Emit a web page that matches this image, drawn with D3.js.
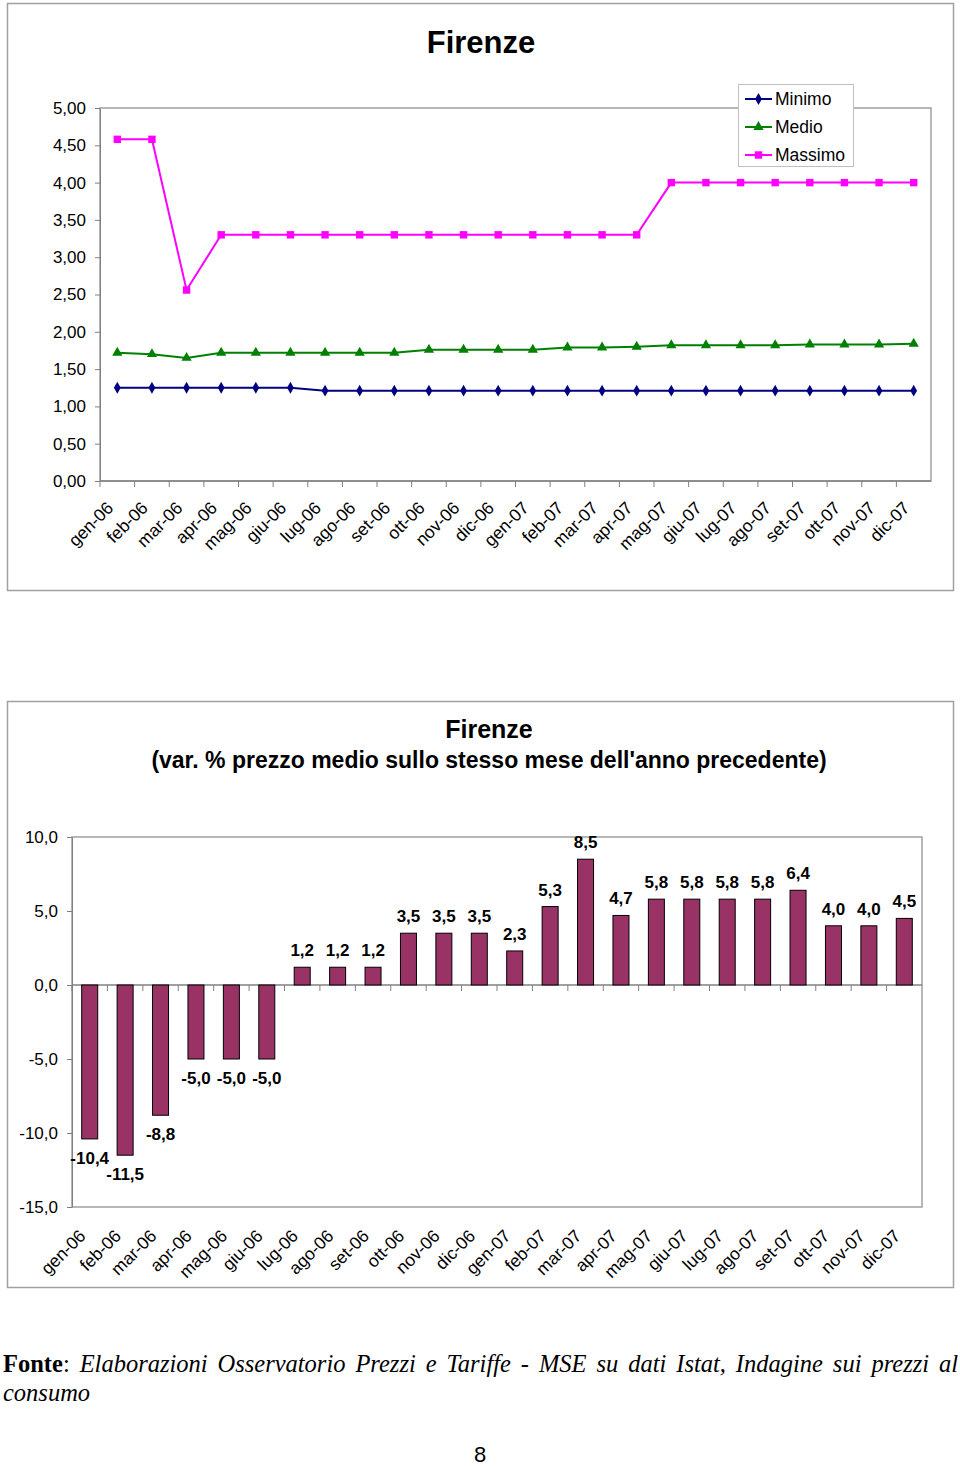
<!DOCTYPE html>
<html><head><meta charset="utf-8">
<script src="https://cdn.jsdelivr.net/npm/d3@7"></script>
<style>
body{margin:0;background:#fff;}
svg{display:block;}
</style></head>
<body>
<svg id="c" width="960" height="1466"></svg>
<script>
const months = ["gen-06","feb-06","mar-06","apr-06","mag-06","giu-06","lug-06","ago-06","set-06","ott-06","nov-06","dic-06","gen-07","feb-07","mar-07","apr-07","mag-07","giu-07","lug-07","ago-07","set-07","ott-07","nov-07","dic-07"];
const minimo = [1.25,1.25,1.25,1.25,1.25,1.25,1.21,1.21,1.21,1.21,1.21,1.21,1.21,1.21,1.21,1.21,1.21,1.21,1.21,1.21,1.21,1.21,1.21,1.21];
const medio  = [1.72,1.70,1.65,1.72,1.72,1.72,1.72,1.72,1.72,1.76,1.76,1.76,1.76,1.79,1.79,1.80,1.82,1.82,1.82,1.82,1.83,1.83,1.83,1.84];
const massimo= [4.58,4.58,2.56,3.30,3.30,3.30,3.30,3.30,3.30,3.30,3.30,3.30,3.30,3.30,3.30,3.30,4.00,4.00,4.00,4.00,4.00,4.00,4.00,4.00];
const variazione = [-10.4,-11.5,-8.8,-5.0,-5.0,-5.0,1.2,1.2,1.2,3.5,3.5,3.5,2.3,5.3,8.5,4.7,5.8,5.8,5.8,5.8,6.4,4.0,4.0,4.5];
const topTicks = [0,0.5,1,1.5,2,2.5,3,3.5,4,4.5,5];
const bottomTicks = [-15,-10,-5,0,5,10];

const svg = d3.select("#c");
const FONT = "'Liberation Sans',Arial,sans-serif";
const comma = (f) => (v) => d3.format(f)(v).replace(".", ",").replace("−","-");

// ---------- TOP CHART ----------
svg.append("rect").attr("x",7.5).attr("y",3.5).attr("width",946).attr("height",587)
  .attr("fill","#fff").attr("stroke","#a0a0a0").attr("stroke-width",1.5);
svg.append("text").attr("x",481).attr("y",53).attr("text-anchor","middle")
  .attr("font-family",FONT).attr("font-weight","bold").attr("font-size",31).text("Firenze");

const t = {l:100,r:931,t:108,b:481};
const x1 = d3.scaleBand().domain(months).range([t.l,t.r]);
const y1 = d3.scaleLinear().domain([0,5]).range([t.b,t.t]);
const g1 = svg.append("g");
g1.append("rect").attr("x",t.l).attr("y",t.t).attr("width",t.r-t.l).attr("height",t.b-t.t)
  .attr("fill","none").attr("stroke","#a0a0a0").attr("stroke-width",1.5);
const ya1 = g1.append("g").attr("transform",`translate(${t.l},0)`)
  .call(d3.axisLeft(y1).tickValues(topTicks).tickFormat(comma(".2f")).tickSize(5).tickSizeOuter(0));
ya1.select(".domain").attr("stroke","#808080");
ya1.selectAll(".tick line").attr("stroke","#808080");
ya1.selectAll("text").attr("font-family",FONT).attr("font-size",17).attr("fill","#000").attr("dx",-6);
const xa1 = g1.append("g").attr("transform",`translate(0,${t.b})`);
xa1.append("line").attr("x1",t.l).attr("x2",t.r).attr("stroke","#808080").attr("stroke-width",1.5);
xa1.selectAll("line.tk").data(months).enter().append("line").attr("class","tk")
  .attr("x1",d=>x1(d)).attr("x2",d=>x1(d)).attr("y1",0).attr("y2",6).attr("stroke","#808080");
xa1.selectAll("text").data(months).enter().append("text")
  .attr("transform",d=>`translate(${x1(d)+x1.bandwidth()/2-3},${28}) rotate(-45)`)
  .attr("text-anchor","end").attr("font-family",FONT).attr("font-size",17.5).text(d=>d);

const series = [
  {name:"Minimo", data:minimo, color:"#000080", sym:d3.symbolDiamond, size:40},
  {name:"Medio", data:medio, color:"#008000", sym:d3.symbolTriangle, size:45},
  {name:"Massimo", data:massimo, color:"#FF00FF", sym:d3.symbolSquare, size:55}
];
const cx = (i)=> x1(months[i]) + x1.bandwidth()/2;
series.forEach(s=>{
  const line = d3.line().x((d,i)=>cx(i)).y(d=>y1(d));
  g1.append("path").datum(s.data).attr("d",line).attr("fill","none").attr("stroke",s.color).attr("stroke-width",2);
  g1.selectAll(null).data(s.data).enter().append("path")
    .attr("d",d3.symbol().type(s.sym).size(s.size))
    .attr("transform",(d,i)=>`translate(${cx(i)},${y1(d)})`).attr("fill",s.color);
});
const lg = svg.append("g");
lg.append("rect").attr("x",738.5).attr("y",84.5).attr("width",115).attr("height",82)
  .attr("fill","#fff").attr("stroke","#c0c0c0");
series.forEach((s,i)=>{
  const yy = 99 + i*28;
  lg.append("line").attr("x1",745).attr("x2",772).attr("y1",yy).attr("y2",yy).attr("stroke",s.color).attr("stroke-width",2);
  lg.append("path").attr("d",d3.symbol().type(s.sym).size(s.size)).attr("transform",`translate(758.5,${yy})`).attr("fill",s.color);
  lg.append("text").attr("x",775).attr("y",yy+6).attr("font-family",FONT).attr("font-size",17.5).text(s.name);
});

// ---------- BOTTOM CHART ----------
svg.append("rect").attr("x",7.5).attr("y",701.5).attr("width",946).attr("height",586)
  .attr("fill","#fff").attr("stroke","#a0a0a0").attr("stroke-width",1.5);
svg.append("text").attr("x",489).attr("y",738).attr("text-anchor","middle")
  .attr("font-family",FONT).attr("font-weight","bold").attr("font-size",25).text("Firenze");
svg.append("text").attr("x",489).attr("y",768).attr("text-anchor","middle")
  .attr("font-family",FONT).attr("font-weight","bold").attr("font-size",23)
  .text("(var. % prezzo medio sullo stesso mese dell'anno precedente)");

const b = {l:72,r:922,t:837,b:1207};
const x2 = d3.scaleBand().domain(months).range([b.l,b.r]);
const y2 = d3.scaleLinear().domain([-15,10]).range([b.b,b.t]);
const g2 = svg.append("g");
g2.append("rect").attr("x",b.l).attr("y",b.t).attr("width",b.r-b.l).attr("height",b.b-b.t)
  .attr("fill","none").attr("stroke","#a0a0a0").attr("stroke-width",1.5);
const ya2 = g2.append("g").attr("transform",`translate(${b.l},0)`)
  .call(d3.axisLeft(y2).tickValues(bottomTicks).tickFormat(comma(".1f")).tickSize(5).tickSizeOuter(0));
ya2.select(".domain").attr("stroke","#808080");
ya2.selectAll(".tick line").attr("stroke","#808080");
ya2.selectAll("text").attr("font-family",FONT).attr("font-size",17).attr("fill","#000").attr("dx",-6);
const xa2 = g2.append("g").attr("transform",`translate(0,${y2(0)})`);
xa2.append("line").attr("x1",b.l).attr("x2",b.r).attr("stroke","#808080").attr("stroke-width",1.5);
xa2.selectAll("line.tk").data(months).enter().append("line").attr("class","tk")
  .attr("x1",d=>x2(d)).attr("x2",d=>x2(d)).attr("y1",0).attr("y2",6).attr("stroke","#808080");
const bw = 16;
const bc = (i)=> x2(months[i]) + x2.bandwidth()/2;
g2.selectAll("rect.bar").data(variazione).enter().append("rect").attr("class","bar")
  .attr("x",(d,i)=>bc(i)-bw/2).attr("width",bw)
  .attr("y",d=>Math.min(y2(d),y2(0))).attr("height",d=>Math.abs(y2(d)-y2(0)))
  .attr("fill","#993366").attr("stroke","#000").attr("stroke-width",1);
const labelFmt = comma(".1f");
g2.selectAll("text.lab").data(variazione).enter().append("text").attr("class","lab")
  .attr("x",(d,i)=>bc(i)).attr("y",d=> d>=0 ? y2(d)-11 : y2(d)+25)
  .attr("text-anchor","middle").attr("font-family",FONT)
  .attr("font-weight","bold").attr("font-size",17).text(d=>labelFmt(d));
g2.selectAll("text.xl").data(months).enter().append("text").attr("class","xl")
  .attr("transform",d=>`translate(${x2(d)+x2.bandwidth()/2-3},1237) rotate(-45)`)
  .attr("text-anchor","end").attr("font-family",FONT).attr("font-size",17.5).text(d=>d);

// ---------- FOOTER ----------
const SERIF = "'Liberation Serif','Times New Roman',serif";
const ft = svg.append("text").attr("x",3).attr("y",1372).attr("font-family",SERIF).attr("font-size",24.5);
ft.append("tspan").attr("font-weight","bold").text("Fonte");
ft.append("tspan").text(": ");
ft.append("tspan").attr("font-style","italic").text("Elaborazioni Osservatorio Prezzi e Tariffe - MSE su dati Istat, Indagine sui prezzi al");
const natural = ft.node().getComputedTextLength();
const spaces = ("Fonte: Elaborazioni Osservatorio Prezzi e Tariffe - MSE su dati Istat, Indagine sui prezzi al").split(" ").length - 1;
ft.attr("word-spacing", Math.max(0,(955 - natural)/spaces));
svg.append("text").attr("x",3).attr("y",1401).attr("font-family",SERIF).attr("font-size",24.5)
  .attr("font-style","italic").text("consumo");
svg.append("text").attr("x",480).attr("y",1462).attr("text-anchor","middle").attr("font-family",FONT)
  .attr("font-size",22).text("8");
</script>
</body></html>
